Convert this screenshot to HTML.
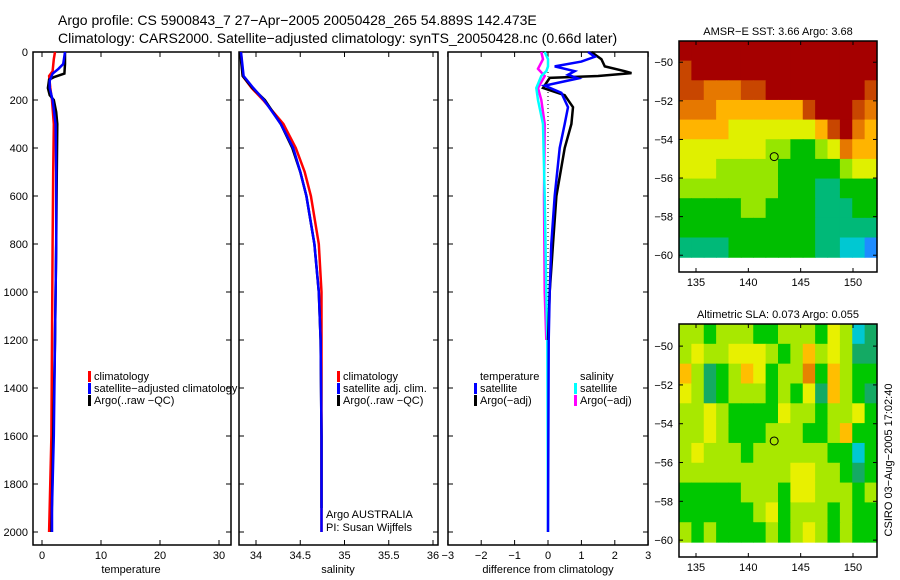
<!DOCTYPE html>
<html><head><meta charset="utf-8"><style>
html,body{margin:0;padding:0;background:#fff;}
svg{display:block;font-family:"Liberation Sans",sans-serif;}
</style></head><body>
<svg id="fig" width="900" height="580" viewBox="0 0 900 580">
<text x="58" y="25" font-size="14">Argo profile: CS 5900843_7 27−Apr−2005 20050428_265 54.889S 142.473E</text>
<text x="58" y="43" font-size="14">Climatology: CARS2000. Satellite−adjusted climatology: synTS_20050428.nc (0.66d later)</text>
</svg>
<script>
// ---- data ----
const depthTicks=[0,200,400,600,800,1000,1200,1400,1600,1800,2000];
const tempTicks=[0,10,20,30];
const salTicks=[34,34.5,35,35.5,36];
const salTickLabels=["34","34.5","35","35.5","36"];
const diffTicks=[-3,-2,-1,0,1,2,3];
const tClimD=[0,30,80,100,150,200,300,500,800,1200,1600,2000];
const tClimV=[2.2,2.0,1.8,1.2,1.4,1.7,2.0,1.9,1.8,1.7,1.6,1.2];
const tSatD=[0,50,70,90,120,150,200,300,500,800,1200,1600,1900,2000];
const tSatV=[3.9,3.6,2.8,1.8,1.3,1.3,1.8,2.3,2.4,2.4,2.2,2.0,1.7,1.7];
const tArgoD=[0,50,90,105,115,150,180,200,250,300,500,800,1200,1600,2000];
const tArgoV=[3.9,3.9,3.8,2.0,1.2,1.0,1.3,2.0,2.4,2.6,2.5,2.4,2.2,1.9,1.6];
const sClimD=[0,100,150,200,300,400,500,600,800,1000,1200,1600,2000];
const sClimV=[33.83,33.85,33.95,34.08,34.31,34.45,34.55,34.62,34.71,34.74,34.74,34.74,34.74];
const sSatD=[0,100,150,200,300,400,500,600,800,1000,1200,1600,2000];
const sSatV=[33.83,33.86,33.97,34.09,34.28,34.42,34.5,34.57,34.66,34.71,34.73,34.74,34.74];
const sArgoD=[0,100,150,200,300,400,500,600,800,1000,1200,1600,1900];
const sArgoV=[33.82,33.85,33.96,34.1,34.28,34.41,34.5,34.57,34.66,34.71,34.73,34.74,34.74];
const dTSatD=[0,20,40,60,80,95,110,140,170,230,300,400,600,800,1000,1200,2000];
const dTSatV=[1.2,1.4,1.0,0.2,0.8,0.6,0.9,-0.1,0.4,0.6,0.5,0.35,0.2,0.1,0.05,0.02,0];
const dTArgoD=[0,30,60,80,88,100,108,150,180,230,300,400,600,800,1000,1200];
const dTArgoV=[1.3,1.6,1.7,2.3,2.5,1.5,0.05,-0.15,0.5,0.75,0.7,0.5,0.25,0.15,0.05,0];
const dSSatD=[0,30,60,80,100,150,200,300,600,1000,1200,2000];
const dSSatV=[-0.1,0,0,-0.05,-0.2,-0.35,-0.3,-0.15,-0.1,-0.05,-0.02,0];
const dSArgoD=[0,30,70,100,150,200,300,600,1000,1200];
const dSArgoV=[-0.2,-0.15,-0.3,-0.1,-0.3,-0.2,-0.1,-0.12,-0.1,-0.05];
const mapLatTicks=[-50,-52,-54,-56,-58,-60];
const mapLonTicks=[135,140,145,150];
const sstGrid=[
[9,9,9,9,9,9,9,9,9,9,9,9,9,9,9,9],
[8,9,9,9,9,9,9,9,9,9,9,9,9,9,9,9],
[8,8,7,7,7,8,8,9,9,9,9,9,9,9,9,8],
[7,7,7,6,6,6,6,6,6,6,8,9,9,9,8,7],
[6,6,6,6,5,5,5,5,5,5,5,6,8,9,7,6],
[5,5,5,5,5,5,5,4,4,3,3,4,5,7,6,6],
[5,5,5,4,4,4,4,4,3,3,3,3,3,4,5,5],
[4,4,4,4,4,4,4,4,3,3,3,2,2,3,3,3],
[3,3,3,3,3,4,4,3,3,3,3,2,2,2,3,3],
[3,3,3,3,3,3,3,3,3,3,3,2,2,2,2,2],
[2,2,2,2,3,3,3,3,3,3,3,2,2,1,1,0]];
const slaGrid=[
[4,4,3,4,4,4,3,3,4,4,4,3,5,4,1,2],
[4,5,4,4,5,5,5,4,3,4,6,4,5,4,2,2],
[6,4,2,3,4,6,5,3,4,4,7,3,6,4,3,3],
[5,4,2,3,4,4,4,3,4,3,5,2,6,4,3,2],
[4,4,5,4,3,3,3,3,5,4,4,3,4,4,5,3],
[4,4,5,4,3,3,3,4,4,4,3,3,4,6,3,3],
[4,5,4,4,4,3,4,4,4,4,4,4,3,3,1,3],
[4,4,4,4,4,4,4,4,4,5,5,4,4,3,2,3],
[3,3,3,3,3,4,4,4,3,5,5,4,4,4,3,4],
[3,3,3,3,3,3,4,5,3,4,4,4,3,4,3,3],
[4,3,4,3,3,3,3,4,3,4,5,4,3,4,3,3]];
const argoLon=142.47, argoLat=-54.89;
// ---- drawing ----
const NS="http://www.w3.org/2000/svg";
const svg=document.getElementById('fig');
function mk(tag,at,parent){const e=document.createElementNS(NS,tag);for(const k in at)e.setAttribute(k,at[k]);(parent||svg).appendChild(e);return e;}
const Y0=52,Ypx=0.24;
const yD=d=>Y0+d*Ypx;
const panels=[
 {x0:33,x1:231,f:v=>42+v*5.9},
 {x0:239,x1:438,f:v=>256+(v-34)*88.5},
 {x0:448,x1:648,f:v=>548+v*33.4}];
const PT=52,PB=545;
panels.forEach((p,i)=>{
 const r=mk('rect',{x:p.x0,y:PT,width:p.x1-p.x0,height:PB-PT,fill:'none',stroke:'#000','stroke-width':1.5});
 
 
 depthTicks.forEach(d=>{
  const y=yD(d);
  mk('line',{x1:p.x0,x2:p.x0+5,y1:y,y2:y,stroke:'#000'});
  mk('line',{x1:p.x1-5,x2:p.x1,y1:y,y2:y,stroke:'#000'});
 });
});
depthTicks.forEach(d=>{
 const t=mk('text',{x:28,y:yD(d)+4,'font-size':11,'text-anchor':'end'});t.textContent=d;
 
 
});
function xTicks(p,ticks,labels,name){
 ticks.forEach((v,k)=>{const x=p.f(v);
  mk('line',{x1:x,x2:x,y1:PB,y2:PB-5,stroke:'#000'});
  mk('line',{x1:x,x2:x,y1:PT,y2:PT+5,stroke:'#000'});
  const t=mk('text',{x:x,y:559,'font-size':11,'text-anchor':'middle'});t.textContent=labels?labels[k]:String(v).replace('-','−');
  
  
 });
}
xTicks(panels[0],tempTicks,null,'temperature-tick-label');
xTicks(panels[1],salTicks,salTickLabels,'salinity-tick-label');
xTicks(panels[2],diffTicks,null,'difference-tick-label');
[['temperature',131],['salinity',338],['difference from climatology',548]].forEach(([s,x])=>{
 const t=mk('text',{x:x,y:573,'font-size':11,'text-anchor':'middle'});t.textContent=s;
 
 
});
function line(p,D,V,col,name,w){
 const pts=D.map((d,k)=>p.f(V[k]).toFixed(1)+','+yD(d).toFixed(1)).join(' ');
 const l=mk('polyline',{points:pts,fill:'none',stroke:col,'stroke-width':w||2.5,'stroke-linejoin':'miter'});
 
 
}
line(panels[0],tClimD,tClimV,'#f00','temperature-climatology-line');
line(panels[0],tArgoD,tArgoV,'#000','temperature-argo-line');
line(panels[0],tSatD,tSatV,'#00f','temperature-satellite-line');
line(panels[1],sClimD,sClimV,'#f00','salinity-climatology-line');
line(panels[1],sArgoD,sArgoV,'#000','salinity-argo-line');
line(panels[1],sSatD,sSatV,'#00f','salinity-satellite-line');
const zl=mk('line',{x1:548,x2:548,y1:yD(0),y2:yD(1150),stroke:'#000','stroke-dasharray':'1,3'});


line(panels[2],dSArgoD,dSArgoV,'#f0f','salinity-argo-diff-line');
line(panels[2],dSSatD,dSSatV,'#0ff','salinity-satellite-diff-line');
line(panels[2],dTArgoD,dTArgoV,'#000','temperature-argo-diff-line');
line(panels[2],dTSatD,dTSatV,'#00f','temperature-satellite-diff-line');
function legend(x,y,items,name){
 items.forEach((it,k)=>{const yy=y+k*12;
  if(it[1]){const b=mk('rect',{x:x,y:yy-9,width:3,height:11,fill:it[1]});}
  const t=mk('text',{x:x+6,y:yy,'font-size':11});t.textContent=it[0];
  
  
 });
}
legend(88,380,[['climatology','#f00'],['satellite−adjusted climatology','#00f'],['Argo(..raw −QC)','#000']],'legend-entry');
legend(337,380,[['climatology','#f00'],['satellite adj. clim.','#00f'],['Argo(..raw −QC)','#000']],'legend-entry');
legend(474,380,[['temperature',null],['satellite','#00f'],['Argo(−adj)','#000']],'legend-entry');
legend(574,380,[['salinity',null],['satellite','#0ff'],['Argo(−adj)','#f0f']],'legend-entry');
const c1=mk('text',{x:326,y:518,'font-size':11});c1.textContent='Argo AUSTRALIA';

const c2=mk('text',{x:326,y:531,'font-size':11});c2.textContent='PI: Susan Wijffels';

// maps
const cmap=['#1e8cff','#00c8d2','#00b978','#00be00','#96e600','#e0f000','#ffb400','#e67800','#c84600','#a50000'];
const slaCmap=['#1e8cff','#00c8d2','#14aa64','#00c800','#a8e800','#e8f000','#ffbe00','#e68200','#c84600','#a50000'];
function drawMap(top,bot,latTop,latPx,grid,cm,title,name){
 const X0=679,X1=877;
 const lonX=l=>696+(l-135)*(157/15);
 const latY=l=>top+(latTop-l)*latPx;
 const cw=(X1-X0)/grid[0].length;
 const rows=grid.length;
 const yEnd=latY(-60.1), yStart=top;
 const ch=(yEnd-yStart)/rows;
 grid.forEach((row,r)=>row.forEach((v,c)=>{
  const cell=mk('rect',{x:(X0+c*cw).toFixed(2),y:(yStart+r*ch).toFixed(2),width:(cw+0.6).toFixed(2),height:(ch+0.6).toFixed(2),fill:cm[v]});
  
  
 }));
 const b=mk('rect',{x:X0,y:top,width:X1-X0,height:bot-top,fill:'none',stroke:'#000','stroke-width':1.5});
 
 
 mapLatTicks.forEach(l=>{const y=latY(l);
  mk('line',{x1:X0,x2:X0+4,y1:y,y2:y,stroke:'#000'});mk('line',{x1:X1-4,x2:X1,y1:y,y2:y,stroke:'#000'});
  const t=mk('text',{x:673,y:y+4,'font-size':11,'text-anchor':'end'});t.textContent=String(l).replace('-','−');
  
 });
 mapLonTicks.forEach(l=>{const x=lonX(l);
  mk('line',{x1:x,x2:x,y1:top,y2:top+4,stroke:'#000'});mk('line',{x1:x,x2:x,y1:bot,y2:bot-4,stroke:'#000'});
  const t=mk('text',{x:x,y:bot+14,'font-size':11,'text-anchor':'middle'});t.textContent=l;
  
 });
 const ci=mk('circle',{cx:lonX(argoLon),cy:latY(argoLat),r:4,fill:'none',stroke:'#000','stroke-width':1});
 
 const tt=mk('text',{x:778,y:top-6,'font-size':11,'text-anchor':'middle'});tt.textContent=title;
 
}
drawMap(41,272,-48.9,19.3,sstGrid,cmap,'AMSR−E SST: 3.66 Argo: 3.68','sst-map');
drawMap(324,557,-48.86,19.4,slaGrid,slaCmap,'Altimetric SLA: 0.073 Argo: 0.055','sla-map');
const vt=mk('text',{x:0,y:0,'font-size':11,'text-anchor':'middle',transform:'translate(892,460) rotate(-90)'});
vt.textContent='CSIRO 03−Aug−2005 17:02:40';

</script>
</body></html>
